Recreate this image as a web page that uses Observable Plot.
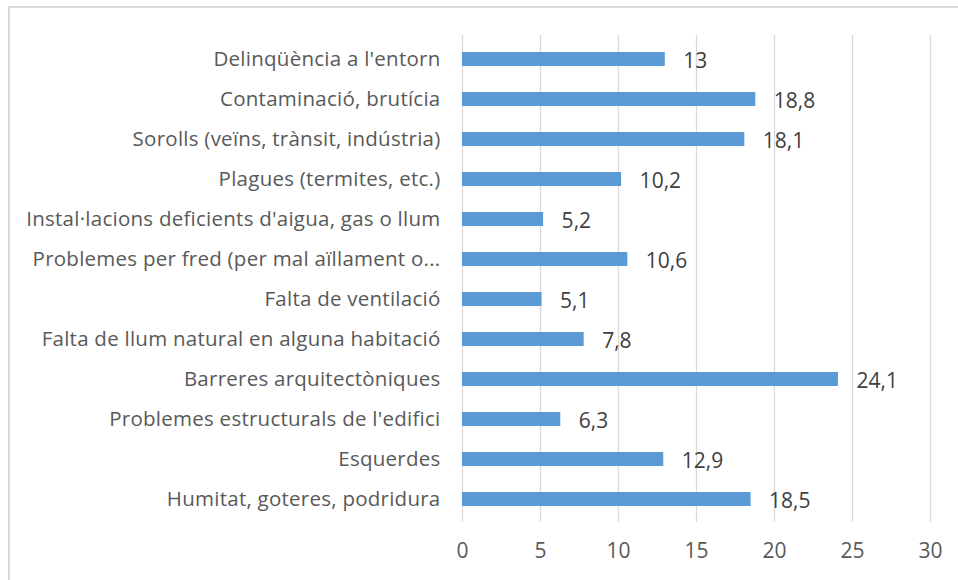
<!DOCTYPE html>
<html>
<head>
<meta charset="utf-8">
<script src="https://cdn.jsdelivr.net/npm/d3@7"></script>
<script src="https://cdn.jsdelivr.net/npm/@observablehq/plot@0.6"></script>
<style>
  html, body { margin: 0; padding: 0; background: #fff; }
  #wrap { position: relative; width: 958px; height: 580px; overflow: hidden; }
  #frame { position: absolute; left: 8px; top: 6px; width: 1000px; height: 700px; border: 2px solid #d9d9d9; box-sizing: border-box; }
  #chart { position: absolute; left: 0; top: 0; }
  #chart svg g[aria-label="y-axis tick label"] text { letter-spacing: 0.25px; }
</style>
</head>
<body>
<div id="wrap"><div id="frame"></div><div id="chart"></div></div>
<script>
const categories = [
  "Delinqüència a l'entorn",
  "Contaminació, brutícia",
  "Sorolls (veïns, trànsit, indústria)",
  "Plagues (termites, etc.)",
  "Instal·lacions deficients d'aigua, gas o llum",
  "Problemes per fred (per mal aïllament o...",
  "Falta de ventilació",
  "Falta de llum natural en alguna habitació",
  "Barreres arquitectòniques",
  "Problemes estructurals de l'edifici",
  "Esquerdes",
  "Humitat, goteres, podridura"
];
const values = [13, 18.8, 18.1, 10.2, 5.2, 10.6, 5.1, 7.8, 24.1, 6.3, 12.9, 18.5];
const xTicks = [0, 5, 10, 15, 20, 25, 30];

const data = categories.map((c, i) => ({category: c, value: values[i]}));
const fmt = v => String(v).replace(".", ",");

const chart = Plot.plot({
  width: 958,
  height: 580,
  marginLeft: 462,
  marginRight: 28,
  marginTop: 35,
  marginBottom: 58,
  style: {fontFamily: "'Open Sans', sans-serif", fontSize: "20px", color: "#595959", background: "transparent"},
  x: {domain: [0, 30], ticks: xTicks, label: null, grid: false},
  y: {domain: categories, label: null, paddingInner: 0.65, paddingOuter: 0.325},
  marks: [
    Plot.ruleX(xTicks, {stroke: "#d9d9d9", strokeWidth: 1.3}),
    Plot.barX(data, {y: "category", x: "value", fill: "#5b9bd5"}),
    Plot.text(data, {y: "category", x: "value", text: d => fmt(d.value), textAnchor: "start", dx: 18, dy: 2, fill: "#404040", fontSize: 21}),
    Plot.axisX({ticks: xTicks, tickSize: 0, tickPadding: 21, label: null, fill: "#595959", fontSize: 21}),
    Plot.axisY({tickSize: 0, tickPadding: 22, label: null, fill: "#595959", fontSize: 20.5})
  ]
});
document.getElementById("chart").appendChild(chart);
</script>
</body>
</html>
